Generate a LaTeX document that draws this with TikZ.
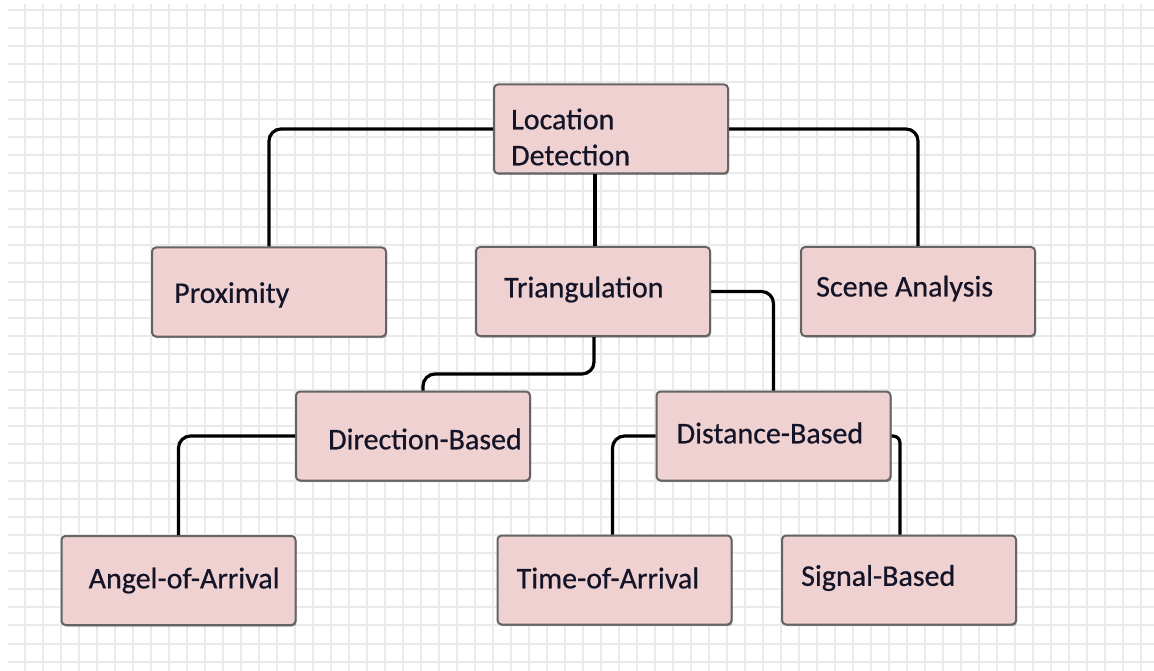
\documentclass[tikz,border=0pt]{standalone}
\usepackage{fontspec}
\setmainfont{Carlito}
\usetikzlibrary{shadows}
\definecolor{boxfill}{RGB}{240,209,209}
\definecolor{boxline}{RGB}{100,100,100}
\definecolor{gridcol}{RGB}{234,234,234}
\definecolor{txtcol}{RGB}{20,20,40}
\tikzset{
  box/.style={draw=boxline, line width=2pt, fill=boxfill, rounded corners=4pt,
    minimum width=234pt, minimum height=89pt, inner sep=0pt,
    drop shadow={shadow xshift=1pt, shadow yshift=-1.5pt, opacity=0.35, fill=black}},
  txt/.style={anchor=west, inner sep=0pt, xshift=#1, text=txtcol,
    font=\fontsize{30}{36}\selectfont\addfontfeature{FakeBold=0.6}},
  txt/.default=22pt,
  link/.style={line width=3.2pt, rounded corners=12pt},
  gridline/.style={draw=gridcol, line width=2pt}
}
\begin{document}
\begin{tikzpicture}[x=1pt,y=-1pt]
\useasboundingbox[fill=white] (0,0) rectangle (1154,671);
% background grid
\foreach \gy in {0,...,36} \draw[gridline] (8,10+18.1*\gy) -- (1154,10+18.1*\gy);
\foreach \gx in {1,...,63} \draw[gridline] (7+18*\gx,4) -- (7+18*\gx,671);
% boxes
\node[box, label={[txt=18pt,align=left,yshift=-8pt]west:{Location\\Detection}}] (ld) at (611,129) {};
\node[box, label={[txt=23pt,yshift=-3pt]west:Proximity}] (prox) at (269,292) {};
\node[box, label={[txt=29pt,yshift=2pt]west:Triangulation}] (tri) at (593,291.5) {};
\node[box, label={[txt=16pt,yshift=3pt]west:Scene Analysis}] (scene) at (918,291.5) {};
\node[box, label={[txt=33pt,yshift=-3pt]west:Direction-Based}] (dir) at (413,436) {};
\node[box, label={[txt=21pt,yshift=3pt]west:Distance-Based}] (dist) at (773.5,436) {};
\node[box, label={[txt=28pt]west:Angel-of-Arrival}] (aoa) at (178.5,580.5) {};
\node[box, label={[txt=20pt,yshift=2pt]west:Time-of-Arrival}] (toa) at (614.5,580) {};
\node[box, label={[txt=20pt,yshift=2pt]west:Signal-Based}] (sig) at (899,580) {};
% connectors
\draw[link] (ld.west) -| (prox.north);
\draw[link] (ld.east) -| (scene.north);
\draw[link] ([xshift=2pt]tri.north) -- ([xshift=2pt]tri.north |- ld.south);
\draw[link] ([xshift=1pt]tri.south) -- ++(0,37) -| ([xshift=10pt]dir.north);
\draw[link] (tri.east) -| (dist.north);
\draw[link] (dir.west) -| (aoa.north);
\draw[link] (dist.west) -| ([xshift=-2pt]toa.north);
\draw[link,rounded corners=7pt] (dist.east) -| ([xshift=1pt]sig.north);
\end{tikzpicture}
\end{document}
